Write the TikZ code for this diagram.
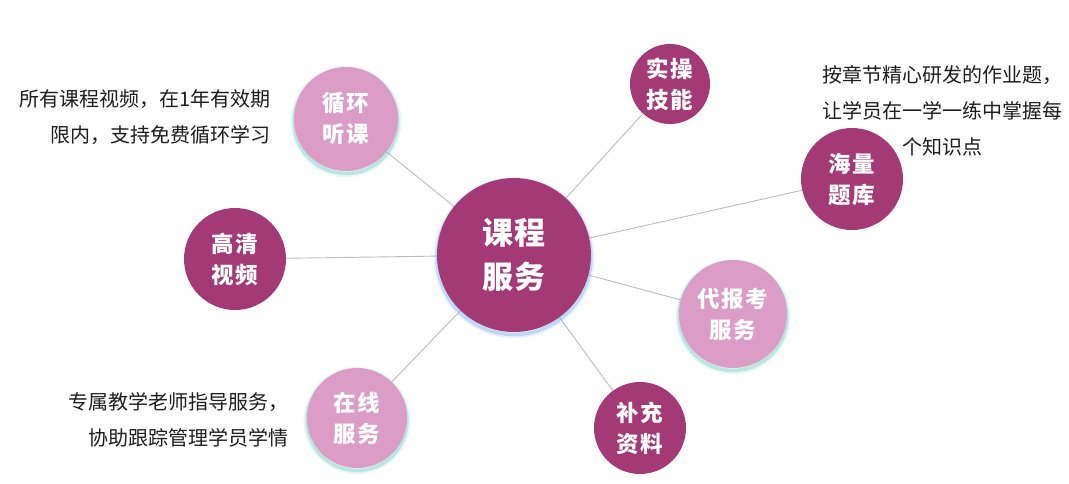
\documentclass[tikz,border=0pt]{standalone}
\usepackage{fontspec}
\setmainfont{Noto Sans CJK SC}
\newfontfamily\lbl{Noto Sans CJK SC}[LetterSpace=6]
\usetikzlibrary{backgrounds}
\definecolor{dk}{HTML}{A33A75}
\definecolor{pk}{HTML}{DB9DC5}
\definecolor{tl}{HTML}{4CC4B0}
\definecolor{gl}{HTML}{6FA8F5}
\definecolor{ln}{HTML}{BDBDBD}
\definecolor{nt}{HTML}{1E1E1E}
\begin{document}
\begin{tikzpicture}[x=1pt,y=-1pt,
  base/.style={circle, inner sep=0pt, text=white, align=center,
    font=\lbl\bfseries\fontsize{22.5}{31}\selectfont},
  dark/.style={base, fill=dk},
  pinkc/.style={base, fill=pk,
    preaction={draw=tl, line width=7pt, draw opacity=0.12, transform canvas={yshift=-2.5pt}},
    preaction={draw=tl, line width=3.5pt, draw opacity=0.3, transform canvas={yshift=-2.5pt}}},
  hub/.style={base, fill=dk, font=\lbl\bfseries\fontsize{31}{44}\selectfont,
    preaction={draw=gl, line width=7pt, draw opacity=0.15, transform canvas={yshift=-2.5pt}},
    preaction={draw=gl, line width=3.5pt, draw opacity=0.35, transform canvas={yshift=-2.5pt}}},
  conn/.style={draw=ln, line width=0.9pt},
  note/.style={inner sep=0pt, text=nt, font=\fontsize{20}{36}\selectfont}]
\useasboundingbox (0,0) rectangle (1069,483);

\node[hub, minimum size=154pt] (c) at (514,255) {课程\\服务};
\node[pinkc, minimum size=104pt] (a1) at (346,119) {循环\\听课};
\node[dark, minimum size=80pt] (a2) at (670,84) {实操\\技能};
\node[dark, minimum size=102pt] (a3) at (852,179) {海量\\题库};
\node[dark, minimum size=102pt] (a4) at (235,259) {高清\\视频};
\node[pinkc, minimum size=108pt] (a5) at (733,314) {代报考\\服务};
\node[dark, minimum size=92pt] (a6) at (640,428) {补充\\资料};
\node[pinkc, minimum size=100pt] (a7) at (357,418) {在线\\服务};

\begin{scope}[on background layer]
  \fill[white] (0,0) rectangle (1069,483);
  \foreach \n in {a1,a2,a3,a4,a5,a6,a7} \draw[conn] (c) -- (\n);
\end{scope}

\node[note, anchor=east, align=right] (t1) at (271,117.5) {所有课程视频，在1年有效期\\限内，支持免费循环学习};
\node[note, align=center] (t2) at (942,111) {按章节精心研发的作业题，\\让学员在一学一练中掌握每\\个知识点};
\node[note, anchor=east, align=right] (t3) at (289,420) {专属教学老师指导服务，\\协助跟踪管理学员学情};
\end{tikzpicture}
\end{document}
